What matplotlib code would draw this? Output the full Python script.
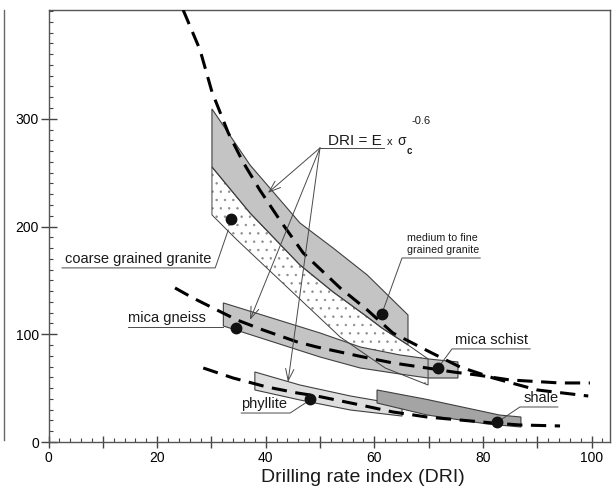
import matplotlib
matplotlib.use("Agg")
import matplotlib.pyplot as plt
from matplotlib.ticker import MultipleLocator, FuncFormatter
from matplotlib.lines import Line2D

plt.rcParams['font.family'] = ['Liberation Sans', 'DejaVu Sans']
plt.rcParams['hatch.linewidth'] = 0.5

# ---- data ----
curve_granite_x = [24.8, 27.9, 30.1, 33.1, 35.8, 38.9, 42.6, 46.9, 53.7, 58.7, 63.4, 70.6, 75.8, 81.9, 90.0, 99.4]
curve_granite_y = [401, 364, 325, 287, 260, 234, 206, 175.5, 143, 122.6, 101.2, 82.6, 69.6, 59.4, 48.3, 42.7]

curve_mica_x = [23.3, 26.6, 31.0, 34.7, 39.5, 45.8, 49.4, 57.4, 63.4, 69.7, 74.5, 78.9, 85.0, 94.2, 99.7]
curve_mica_y = [143.0, 133.7, 122.6, 113.3, 104.0, 92.9, 88.2, 79.5, 73.4, 68.7, 65.0, 62.2, 57.6, 54.8, 54.8]

curve_phyl_x = [28.5, 34.0, 40.2, 45.8, 49.4, 57.4, 63.4, 69.7, 75.8, 81.9, 86.8, 94.2]
curve_phyl_y = [68.7, 59.4, 51.1, 45.5, 42.7, 34.4, 27.9, 23.2, 20.4, 17.6, 15.8, 14.9]

# medium to fine grained granite band
mfg_x = [30.1, 37.1, 46.3, 52.4, 58.7, 66.2, 66.2, 61.4, 58.7, 52.4, 46.3, 37.1, 30.1]
mfg_y = [309.2, 257.2, 203.3, 180.1, 155.0, 117.9, 90.1, 105.8, 116.1, 139.3, 164.3, 212.6, 255.3]

# coarse grained granite (white, stippled)
cgg_x = [30.1, 30.1, 34.7, 44.5, 53.7, 62.0, 69.9, 69.9, 66.2, 61.4, 58.7, 52.4, 46.3, 37.1]
cgg_y = [255.3, 210.8, 187.6, 141.1, 97.5, 68.7, 52.9, 77.1, 90.1, 105.8, 116.1, 139.3, 164.3, 212.6]

# mica gneiss + mica schist band
gneiss_x = [32.2, 50.0, 57.4, 64.7, 69.9, 75.4, 75.4, 69.9, 64.7, 57.4, 50.0, 32.2]
gneiss_y = [129.1, 101.2, 88.2, 80.8, 77.1, 74.3, 59.4, 59.4, 63.1, 68.7, 78.9, 107.7]

# phyllite band
phyl_x = [38.0, 46.3, 55.6, 65.1, 65.1, 55.6, 46.3, 38.0]
phyl_y = [65.0, 52.9, 42.7, 34.4, 24.1, 29.7, 39.0, 48.3]

# shale band
shale_x = [60.5, 69.7, 83.1, 87.0, 87.0, 80.8, 69.7, 60.5]
shale_y = [48.3, 39.5, 25.0, 23.2, 13.9, 16.7, 25.1, 36.2]

# rock sample points
dot_names = ['coarse grained granite', 'medium to fine grained granite', 'mica gneiss',
             'mica schist', 'phyllite', 'shale']
dot_x = [33.6, 61.4, 34.5, 71.7, 48.2, 82.6]
dot_y = [207.1, 118.8, 105.8, 68.7, 39.9, 18.6]

x_ticks_major = [0, 10, 20, 30, 40, 50, 60, 70, 80, 90, 100]
y_ticks_major = [0, 100, 200, 300]

# ---- figure ----
fig = plt.figure(figsize=(6.15, 4.91), dpi=100)
ax = fig.add_axes([48.5 / 615, 1 - 442 / 491, (610 - 48.5) / 615, (442 - 10) / 491])
ax.set_xlim(0, 103.4)
ax.set_ylim(0, 401)

edge = '#404040'
# coarse grained granite: white fill with dots
ax.fill(cgg_x, cgg_y, facecolor='white', edgecolor='#8c8c8c', linewidth=0, hatch='..', zorder=1)
ax.fill(mfg_x, mfg_y, facecolor='#c4c4c4', edgecolor=edge, linewidth=0.8, zorder=2)
ax.fill(gneiss_x, gneiss_y, facecolor='#c4c4c4', edgecolor=edge, linewidth=0.8, zorder=2)
ax.fill(phyl_x, phyl_y, facecolor='#dedede', edgecolor=edge, linewidth=0.8, zorder=2)
ax.fill(shale_x, shale_y, facecolor='#a4a4a4', edgecolor=edge, linewidth=0.8, zorder=2)
ax.fill(cgg_x, cgg_y, facecolor='none', edgecolor=edge, linewidth=0.7, zorder=3)

for cx, cy in [(curve_granite_x, curve_granite_y), (curve_mica_x, curve_mica_y),
               (curve_phyl_x, curve_phyl_y)]:
    ax.plot(cx, cy, color='black', linewidth=2.2, dashes=(5, 2.8), solid_capstyle='butt',
            dash_capstyle='butt', zorder=4)

ax.plot(dot_x, dot_y, 'o', color='#111111', markersize=7.5, zorder=6)

# ---- annotations ----
tc = '#1a1a1a'
lc = '#4a4a4a'
fs = 10.5

def seg(xs, ys):
    ax.plot(xs, ys, color=lc, linewidth=0.7, zorder=5)

ax.text(3.0, 163.0, 'coarse grained granite', fontsize=fs, color=tc, va='bottom', ha='left', zorder=7)
seg([2.5, 30.7, 33.1], [161.6, 161.6, 196.8])

ax.text(66.0, 173.6, 'medium to fine\ngrained granite', fontsize=7.7, color=tc, va='bottom',
        ha='left', linespacing=1.3, zorder=7)
seg([79.5, 65.1, 61.6], [170.8, 170.8, 122.0])

ax.text(14.7, 108.6, 'mica gneiss', fontsize=fs, color=tc, va='bottom', ha='left', zorder=7)
seg([14.6, 32.2], [106.8, 106.8])

ax.text(35.5, 28.8, 'phyllite', fontsize=fs, color=tc, va='bottom', ha='left', zorder=7)
seg([35.5, 44.5, 48.0], [26.9, 26.9, 38.5])

ax.text(74.9, 88.2, 'mica schist', fontsize=fs, color=tc, va='bottom', ha='left', zorder=7)
seg([88.7, 74.3, 71.9], [86.4, 86.4, 70.0])

ax.text(87.4, 34.4, 'shale', fontsize=fs, color=tc, va='bottom', ha='left', zorder=7)
seg([93.8, 86.8, 83.0], [32.5, 32.5, 19.5])

# formula label
ax.text(51.5, 275.8, 'DRI = E', fontsize=11, color=tc, va='baseline', ha='left', zorder=7)
ax.text(62.3, 275.8, 'x', fontsize=8, color=tc, va='baseline', ha='left', zorder=7)
ax.text(64.2, 275.8, 'σ', fontsize=10, color=tc, va='baseline', ha='left', zorder=7)
ax.text(65.9, 267.4, 'c', fontsize=7, color=tc, va='baseline', ha='left', fontweight='bold', zorder=7)
ax.text(66.8, 295.3, '-0.6', fontsize=8, color=tc, va='baseline', ha='left', zorder=7)
seg([50.0, 61.8], [273.0, 273.0])
for tip in [(40.4, 231.2), (37.1, 113.3), (44.1, 55.7)]:
    ax.annotate('', xy=tip, xytext=(50.0, 273.0),
                arrowprops=dict(arrowstyle='->,head_length=0.7,head_width=0.25', lw=0.7,
                                color=lc, shrinkA=0, shrinkB=0, mutation_scale=12), zorder=5)

# ---- axes styling ----
for s in ax.spines.values():
    s.set_color('#555555')
    s.set_linewidth(1.0)

ax.set_xticks(x_ticks_major)
ax.xaxis.set_major_formatter(FuncFormatter(lambda v, p: f'{int(v)}' if int(round(v)) % 20 == 0 else ''))
ax.xaxis.set_minor_locator(MultipleLocator(2))
ax.set_yticks(y_ticks_major)
ax.yaxis.set_minor_locator(MultipleLocator(10))
ax.tick_params(axis='x', which='major', direction='inout', length=9, width=1, color='#444444',
               labelsize=10, pad=2)
ax.tick_params(axis='y', which='major', direction='inout', length=11, width=1, color='#444444',
               labelsize=10, pad=1.5)
ax.tick_params(which='minor', direction='in', length=3, width=0.8, color='#444444')

fig.text(363 / 615, 1 - 478 / 491, 'Drilling rate index (DRI)', fontsize=14, ha='center',
         va='center', color=tc)

# edge of neighbouring panel at far left
fig.add_artist(Line2D([4 / 615, 4 / 615], [1 - 440 / 491, 1 - 10 / 491], color='#666666',
                      linewidth=1.0, transform=fig.transFigure))

fig.savefig('out.png', dpi=100)
